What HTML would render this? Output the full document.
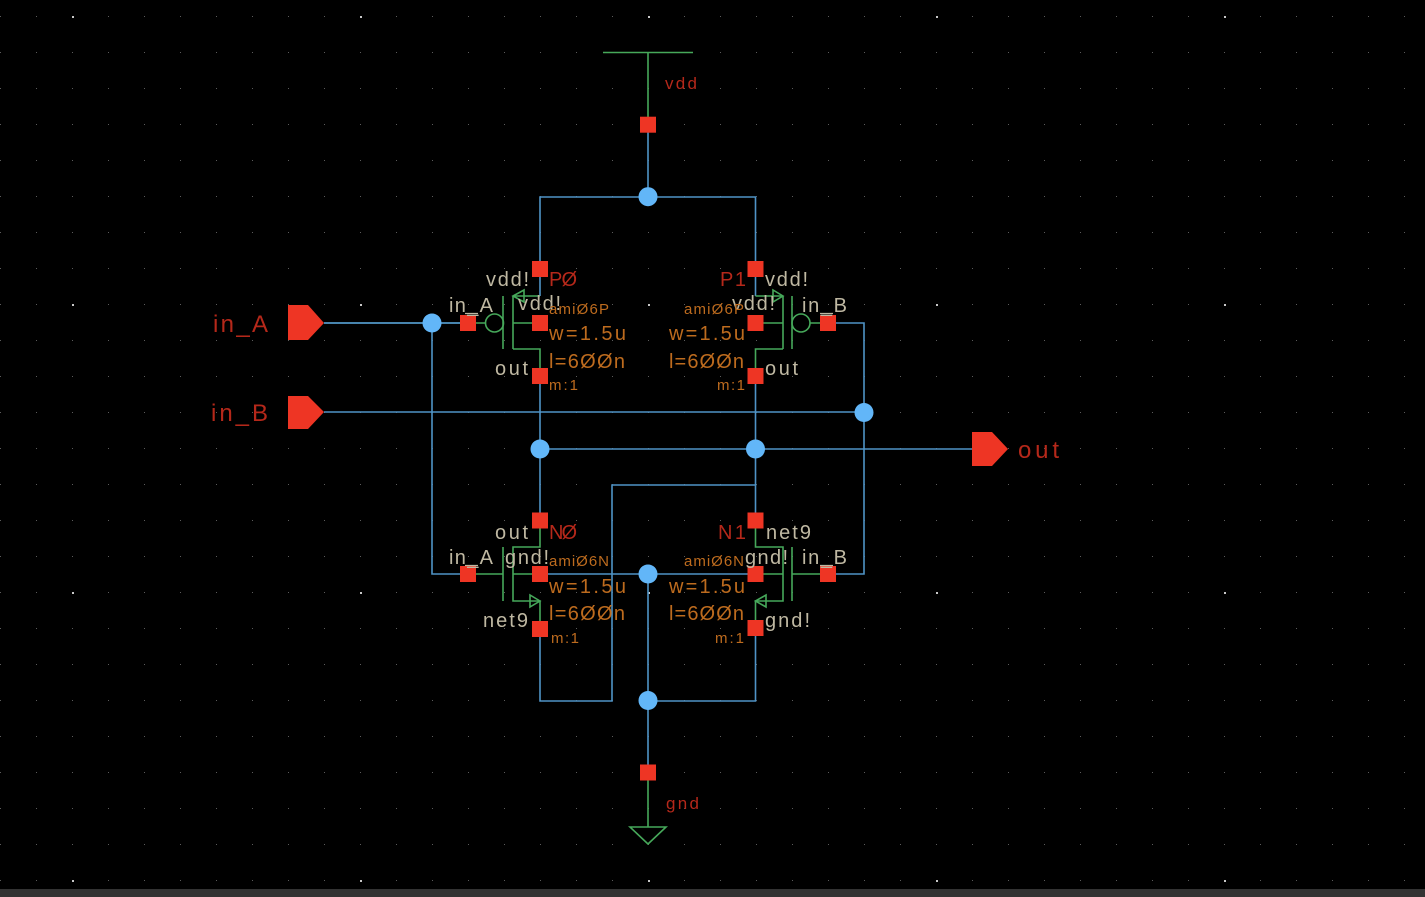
<!DOCTYPE html>
<html><head><meta charset="utf-8"><style>
html,body{margin:0;padding:0;background:#000;width:1425px;height:897px;overflow:hidden}
svg{display:block}
text{font-family:"Liberation Sans",sans-serif}
.t{fill:#bfb8a2;font-size:20px}
.o{fill:#bd6b1e;font-size:20px}
.s{fill:#bd6b1e;font-size:15px}
.r{fill:#b5281a;font-size:20px}
.b{fill:none;stroke:#4f93c6;stroke-width:1.6}
.l{fill:none;stroke:#5fb0e8;stroke-width:1.6}
.g{fill:none;stroke:#46a85a;stroke-width:1.6}
.u{fill:none;stroke:#bfb8a2;stroke-width:1.2}
</style></head><body>
<svg width="1425" height="897" viewBox="0 0 1425 897" xmlns="http://www.w3.org/2000/svg">
<defs>
<pattern id="d" x="0" y="16" width="36" height="36" patternUnits="userSpaceOnUse"><rect x="0" y="0" width="1" height="1" fill="#5c5c5c"/></pattern>
<pattern id="D" x="72" y="16" width="288" height="288" patternUnits="userSpaceOnUse"><rect x="0" y="0" width="2" height="2" fill="#c8c8c8"/></pattern>
</defs>
<rect width="1425" height="897" fill="#000"/>
<rect width="1425" height="889" fill="url(#d)"/>
<rect width="1425" height="889" fill="url(#D)"/>
<rect y="889" width="1425" height="8" fill="#333"/>

<!-- blue wires -->
<path class="b" d="M648 124V197M540 269V197H755.500V269"/>
<path class="b" d="M540 269V296M755.500 269V296"/>
<path class="l" d="M324 323H468"/>
<path class="b" d="M432 323V574H468"/>
<path class="b" d="M324 412H864M828 323H864V574H828"/>
<path class="b" d="M540 376V520M755.500 376V485H612V701H540V628"/>
<path class="b" d="M755.500 485V520"/>
<path class="b" d="M540 449H972"/>
<path class="b" d="M540 574H755.500M648 574V772M648 701H755.500V628"/>

<!-- green: vdd / gnd -->
<path class="g" d="M603 52.500H693M648 52.500V124"/>
<path class="g" d="M648 772V827M630 827H666L648 844Z"/>

<!-- P0 -->
<path class="g" d="M468 323H485M503 296V349M513 296V349M513 296H540M513 323H540M513 349H540V376"/>
<circle class="g" cx="494.500" cy="323" r="9"/>
<path class="g" d="M513 296L524 290V302Z"/>
<!-- P1 -->
<path class="g" d="M828 323H810M792 296V349M783 296V349M755.500 296H783M755.500 323H783M783 349H755.500V376"/>
<circle class="g" cx="801" cy="323" r="9"/>
<path class="g" d="M783 296L773 290V302Z"/>
<!-- N0 -->
<path class="g" d="M540 520V547H513V601H540V628M513 574H540M468 574H503M503 547V601"/>
<path class="g" d="M540 601L530 595V607Z"/>
<!-- N1 -->
<path class="g" d="M755.500 520V547H783V601H755.500V628M755.500 574H783M828 574H792M792 547V601"/>
<path class="g" d="M755.500 601L766 595V607Z"/>

<!-- pins -->
<g fill="#ee3524">
<path d="M288 305H308L324 323L308 340H288Z"/>
<path d="M288 396H308L324 412L308 429H288Z"/>
<path d="M972 432H992L1008 449L992 466H972Z"/>
<rect x="640" y="116.700" width="16" height="16"/>
<rect x="532" y="261" width="16" height="16"/><rect x="747.500" y="261" width="16" height="16"/>
<rect x="532" y="315" width="16" height="16"/><rect x="747.500" y="315" width="16" height="16"/>
<rect x="460" y="315" width="16" height="16"/><rect x="820" y="315" width="16" height="16"/>
<rect x="532" y="368" width="16" height="16"/><rect x="747.500" y="368" width="16" height="16"/>
<rect x="532" y="512.500" width="16" height="16"/><rect x="747.500" y="512.500" width="16" height="16"/>
<rect x="532" y="566" width="16" height="16"/><rect x="747.500" y="566" width="16" height="16"/>
<rect x="460" y="566" width="16" height="16"/><rect x="820" y="566" width="16" height="16"/>
<rect x="532" y="621" width="16" height="16"/><rect x="747.500" y="620" width="16" height="16"/>
<rect x="640" y="764.500" width="16" height="16"/>
</g>

<!-- dots -->
<g fill="#62b6f8">
<circle cx="648" cy="196.700" r="9.500"/><circle cx="432" cy="323" r="9.500"/><circle cx="864" cy="412.500" r="9.500"/>
<circle cx="540" cy="449" r="9.500"/><circle cx="755.500" cy="449" r="9.500"/><circle cx="648" cy="574" r="9.500"/><circle cx="648" cy="700.500" r="9.500"/>
</g>

<!-- labels -->
<text class="r" x="213" y="332" style="font-size:24px" textLength="55">in_A</text>
<text class="r" x="211" y="421" style="font-size:24px" textLength="57">in_B</text>
<text class="r" x="1018" y="458" style="font-size:24px" textLength="41">out</text>
<text class="r" x="665" y="89" style="font-size:17px" textLength="32">vdd</text>
<text class="r" x="666" y="809" style="font-size:17px" textLength="33">gnd</text>

<text class="r" x="549" y="286" textLength="28">PØ</text>
<text class="r" x="720" y="286" textLength="26">P1</text>
<text class="r" x="549" y="539" textLength="28">NØ</text>
<text class="r" x="718" y="539" textLength="28">N1</text>

<text class="t" x="486" y="286" textLength="43">vdd!</text>
<text class="t" x="765" y="286" textLength="43">vdd!</text>
<text class="t" x="518" y="310" textLength="43">vdd!</text>
<text class="t" x="732" y="310" textLength="43">vdd!</text>
<text class="t" x="449" y="312" textLength="44">in_A</text>
<text class="t" x="802" y="312" textLength="45">in_B</text>
<path class="u" d="M465 313.500H478M820 313.500H833M465 565.500H478M820 565.500H833"/>
<text class="t" x="495" y="375" textLength="33">out</text>
<text class="t" x="765" y="375" textLength="33">out</text>
<text class="t" x="495" y="539" textLength="33">out</text>
<text class="t" x="766" y="539" textLength="45">net9</text>
<text class="t" x="449" y="564" textLength="44">in_A</text>
<text class="t" x="802" y="564" textLength="45">in_B</text>
<text class="t" x="505" y="564" textLength="44">gnd!</text>
<text class="t" x="745" y="564" textLength="43">gnd!</text>
<text class="t" x="483" y="627" textLength="45">net9</text>
<text class="t" x="765" y="627" textLength="45">gnd!</text>

<text class="s" x="549" y="314" textLength="60">amiØ6P</text>
<text class="s" x="684" y="314" textLength="60">amiØ6P</text>
<text class="s" x="549" y="566" textLength="60">amiØ6N</text>
<text class="s" x="684" y="566" textLength="60">amiØ6N</text>
<text class="o" x="549" y="340" textLength="77">w=1.5u</text>
<text class="o" x="669" y="340" textLength="76">w=1.5u</text>
<text class="o" x="549" y="368" textLength="76">l=6ØØn</text>
<text class="o" x="669" y="368" textLength="75">l=6ØØn</text>
<text class="o" x="549" y="593" textLength="77">w=1.5u</text>
<text class="o" x="669" y="593" textLength="76">w=1.5u</text>
<text class="o" x="549" y="620" textLength="76">l=6ØØn</text>
<text class="o" x="669" y="620" textLength="75">l=6ØØn</text>
<text class="s" x="549" y="390" textLength="29">m:1</text>
<text class="s" x="717" y="390" textLength="28">m:1</text>
<text class="s" x="551" y="643" textLength="28">m:1</text>
<text class="s" x="715" y="643" textLength="29">m:1</text>
</svg>
</body></html>
